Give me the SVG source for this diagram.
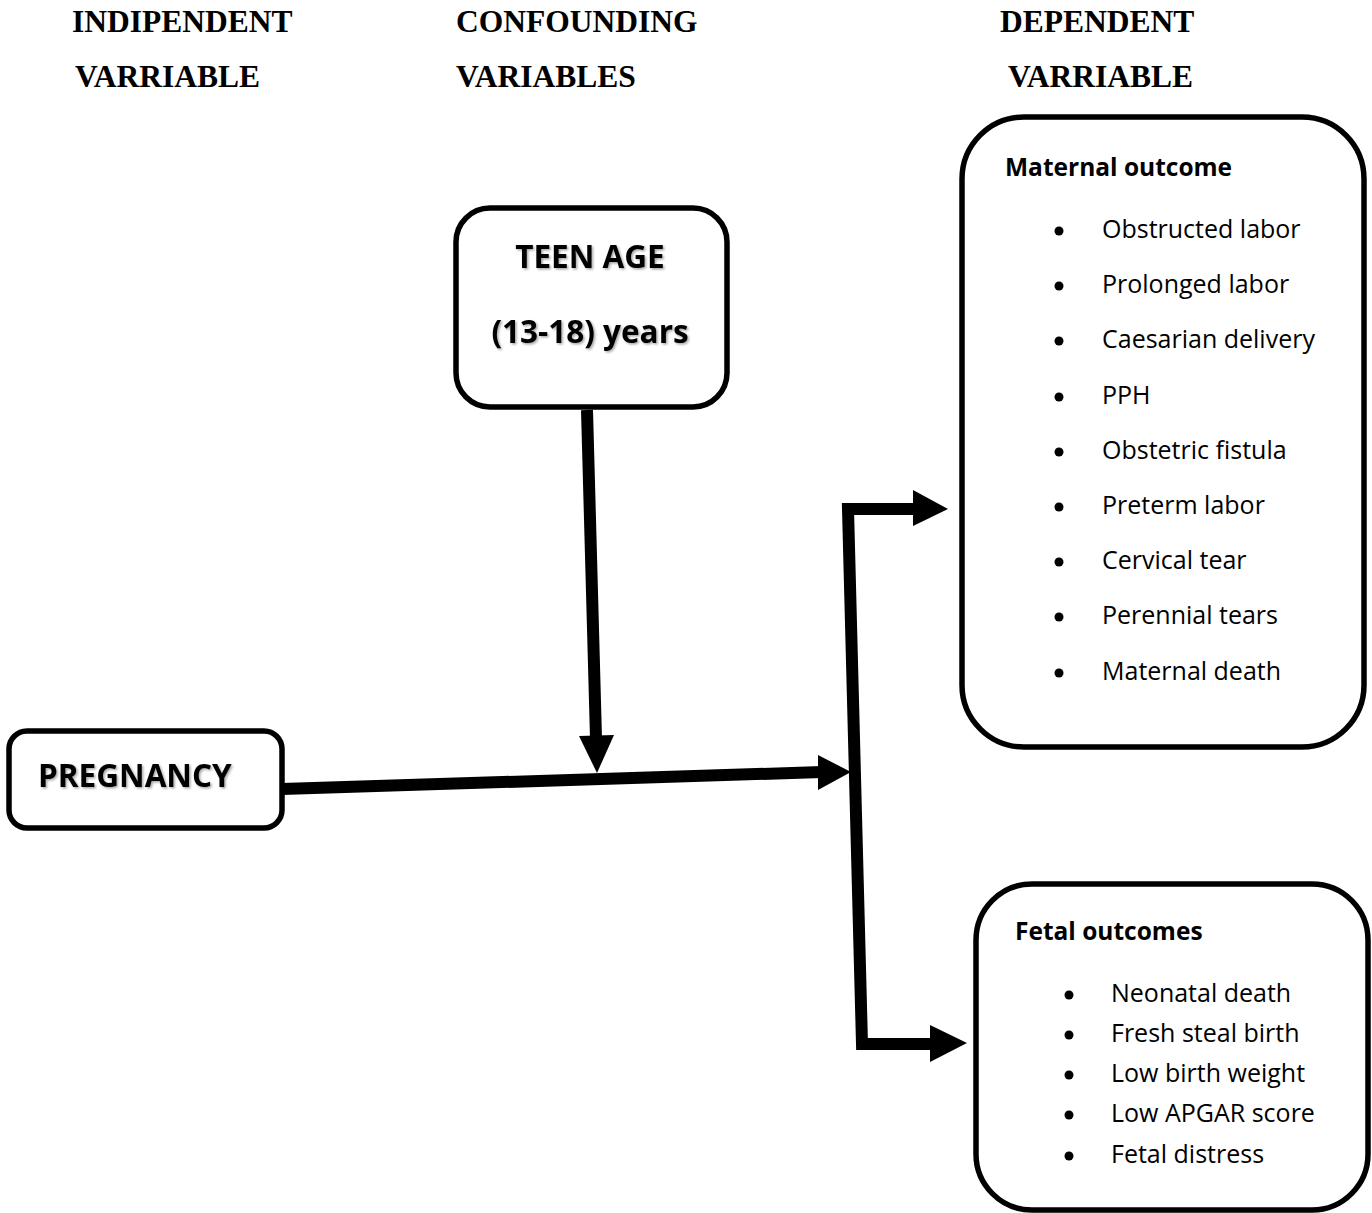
<svg xmlns="http://www.w3.org/2000/svg" width="1372" height="1213" viewBox="0 0 1372 1213">
<style>
.hdr{font-family:"Liberation Serif",serif;font-weight:bold;font-size:31.5px;fill:#000}
.box{fill:#fff;stroke:#000;stroke-width:5.5}
.title{font-family:"Open Sans","Liberation Sans",sans-serif;font-weight:bold;font-size:31.5px;fill:#000}
.sub{font-family:"Open Sans","Liberation Sans",sans-serif;font-weight:bold;font-size:24.5px;fill:#000}
.item{font-family:"Open Sans","Liberation Sans",sans-serif;font-size:25px;fill:#000}
.line{fill:none;stroke:#000;stroke-width:12}
.head{fill:#000}
</style>
<defs>
<filter id="sh" x="-10%" y="-10%" width="120%" height="130%">
<feDropShadow dx="1.5" dy="1.5" stdDeviation="1" flood-color="#000" flood-opacity="0.35"/>
</filter>
</defs>
<rect width="1372" height="1213" fill="#fff"/>
<g id="headers">
<text class="hdr" x="72" y="32">INDIPENDENT</text>
<text class="hdr" x="75" y="87">VARRIABLE</text>
<text class="hdr" x="456" y="32">CONFOUNDING</text>
<text class="hdr" x="456" y="87">VARIABLES</text>
<text class="hdr" x="1000" y="32">DEPENDENT</text>
<text class="hdr" x="1008" y="87">VARRIABLE</text>
</g>
<g id="connectors">
<line class="line" x1="282" y1="789" x2="822" y2="772"/>
<polygon class="head" points="818,755 851,772 818,790"/>
<line class="line" x1="587" y1="410" x2="596" y2="738"/>
<polygon class="head" points="579,736 614,735 597,773"/>
<polyline class="line" points="915,509 848,509 862,1044 932,1044" stroke-linejoin="miter"/>
<polygon class="head" points="913,490 948,509 913,526"/>
<polygon class="head" points="930,1025 967,1043 930,1062"/>
</g>
<g id="teen-age">
<rect class="box" x="456" y="208" width="271" height="199" rx="34"/>
<text class="title" x="590" y="268" text-anchor="middle" filter="url(#sh)">TEEN AGE</text>
<text class="title" x="590" y="343" text-anchor="middle" filter="url(#sh)">(13-18) years</text>
</g>
<g id="pregnancy">
<rect class="box" x="9" y="731" width="273" height="97" rx="18"/>
<text class="title" x="38" y="787" filter="url(#sh)">PREGNANCY</text>
</g>
<g id="maternal-outcome">
<rect class="box" x="962" y="117" width="402" height="630" rx="62"/>
<text class="sub" x="1005" y="176">Maternal outcome</text>
<g class="item">
<circle cx="1059" cy="231" r="4.5"/><text x="1102" y="238">Obstructed labor</text>
<circle cx="1059" cy="286" r="4.5"/><text x="1102" y="293">Prolonged labor</text>
<circle cx="1059" cy="341" r="4.5"/><text x="1102" y="348">Caesarian delivery</text>
<circle cx="1059" cy="397" r="4.5"/><text x="1102" y="404">PPH</text>
<circle cx="1059" cy="452" r="4.5"/><text x="1102" y="459">Obstetric fistula</text>
<circle cx="1059" cy="507" r="4.5"/><text x="1102" y="514">Preterm labor</text>
<circle cx="1059" cy="562" r="4.5"/><text x="1102" y="569">Cervical tear</text>
<circle cx="1059" cy="617" r="4.5"/><text x="1102" y="624">Perennial tears</text>
<circle cx="1059" cy="673" r="4.5"/><text x="1102" y="680">Maternal death</text>
</g>
</g>
<g id="fetal-outcomes">
<rect class="box" x="976" y="884" width="392" height="326" rx="56"/>
<text class="sub" x="1015" y="940">Fetal outcomes</text>
<g class="item">
<circle cx="1069" cy="995" r="4.5"/><text x="1111" y="1002">Neonatal death</text>
<circle cx="1069" cy="1035" r="4.5"/><text x="1111" y="1042">Fresh steal birth</text>
<circle cx="1069" cy="1075" r="4.5"/><text x="1111" y="1082">Low birth weight</text>
<circle cx="1069" cy="1115" r="4.5"/><text x="1111" y="1122">Low APGAR score</text>
<circle cx="1069" cy="1156" r="4.5"/><text x="1111" y="1163">Fetal distress</text>
</g>
</g>
</svg>
